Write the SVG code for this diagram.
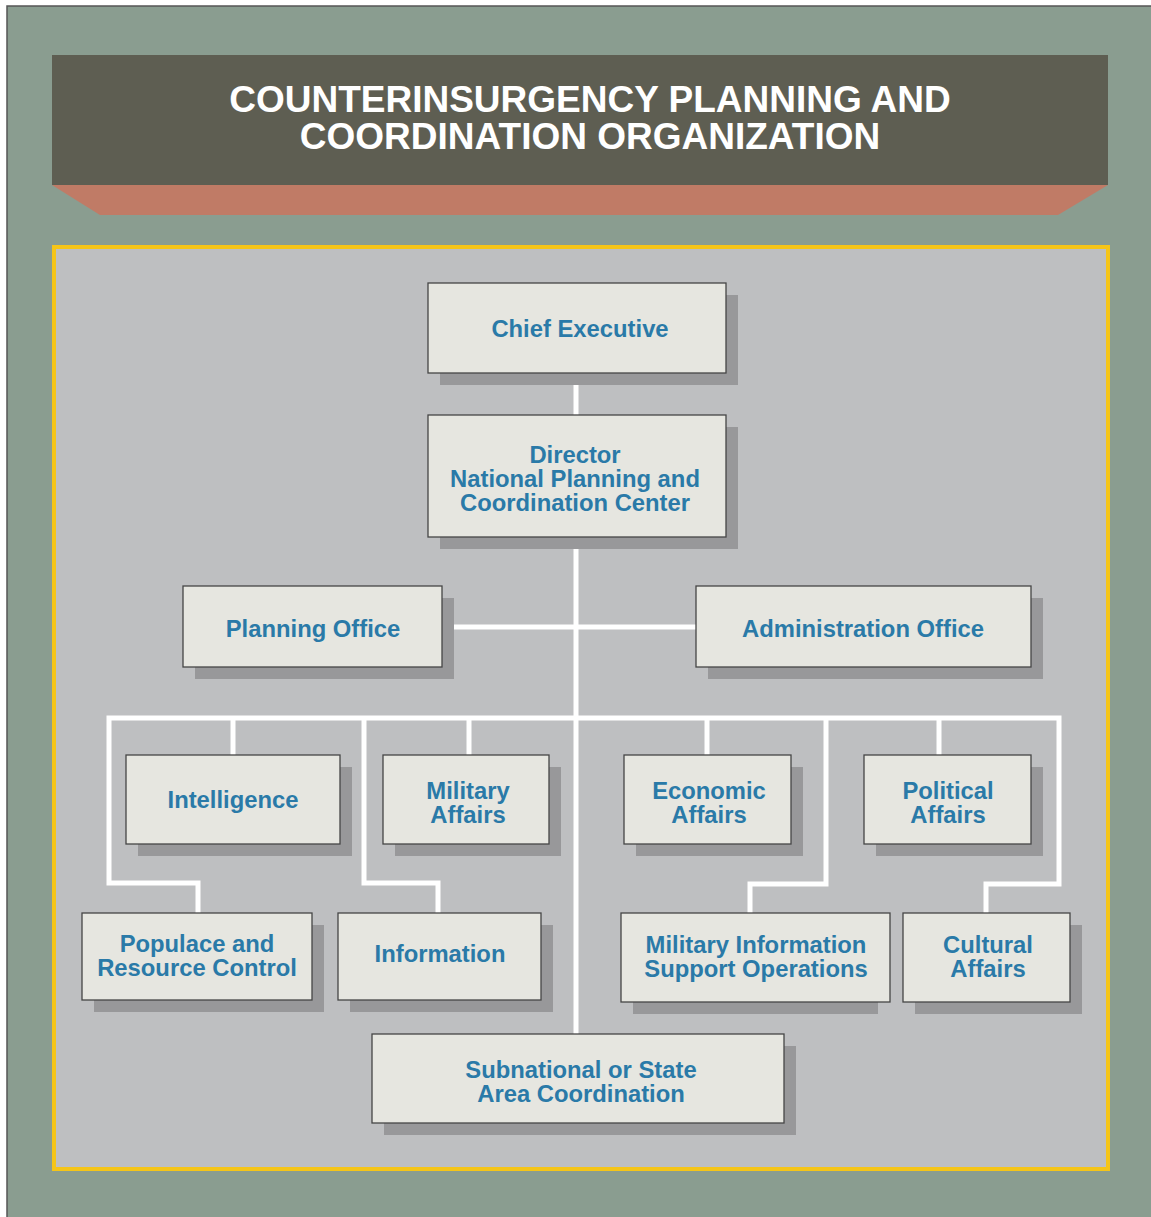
<svg xmlns="http://www.w3.org/2000/svg" width="1151" height="1217" viewBox="0 0 1151 1217">
<style>
.sh{fill:#98989a}
.bx{fill:#e6e6e0;stroke:#454545;stroke-width:1.3}
.t{font-family:"Liberation Sans",Arial,sans-serif;font-weight:bold;font-size:23.8px;fill:#2a7aa8;text-anchor:middle}
.ttl{font-family:"Liberation Sans",Arial,sans-serif;font-weight:bold;font-size:37px;fill:#ffffff;text-anchor:middle}
.c{fill:none;stroke:#ffffff;stroke-width:5}
</style>
<rect x="0" y="0" width="1151" height="1217" fill="#ffffff"/>
<rect x="7" y="6" width="1144" height="1211" fill="#8a9d90"/>
<polyline points="7,1217 7,6 1151,6" fill="none" stroke="#555" stroke-width="1.5"/>
<polygon points="52,185 1108,185 1058,215 100,215" fill="#c07b66"/>
<rect x="52" y="55" width="1056" height="130" fill="#5e5e52"/>
<text class="ttl" x="590" y="112">COUNTERINSURGENCY PLANNING AND</text>
<text class="ttl" x="590" y="149">COORDINATION ORGANIZATION</text>
<rect x="54" y="247" width="1054" height="922" fill="#bebfc1" stroke="#f5c518" stroke-width="4"/>
<g id="connectors">
<line class="c" x1="576" y1="373" x2="576" y2="1034"/>
<line class="c" x1="442" y1="627" x2="696" y2="627"/>
<polyline class="c" points="198,913 198,883 109,883 109,718 1059,718 1059,884 986,884 986,913"/>
<line class="c" x1="233" y1="718" x2="233" y2="755"/>
<polyline class="c" points="364,718 364,883 438,883 438,913"/>
<line class="c" x1="469" y1="718" x2="469" y2="755"/>
<line class="c" x1="707" y1="718" x2="707" y2="755"/>
<polyline class="c" points="826,718 826,884 750,884 750,913"/>
<line class="c" x1="939" y1="718" x2="939" y2="755"/>
</g>
<g id="chief"><rect class="sh" x="440" y="295" width="298" height="90"/><rect class="bx" x="428" y="283" width="298" height="90"/><text class="t" x="580" y="337">Chief Executive</text></g>
<g id="director"><rect class="sh" x="440" y="427" width="298" height="122"/><rect class="bx" x="428" y="415" width="298" height="122"/><text class="t" x="575" y="463">Director</text><text class="t" x="575" y="487">National Planning and</text><text class="t" x="575" y="511">Coordination Center</text></g>
<g id="planning"><rect class="sh" x="195" y="598" width="259" height="81"/><rect class="bx" x="183" y="586" width="259" height="81"/><text class="t" x="313" y="637">Planning Office</text></g>
<g id="admin"><rect class="sh" x="708" y="598" width="335" height="81"/><rect class="bx" x="696" y="586" width="335" height="81"/><text class="t" x="863" y="637">Administration Office</text></g>
<g id="intelligence"><rect class="sh" x="138" y="767" width="214" height="89"/><rect class="bx" x="126" y="755" width="214" height="89"/><text class="t" x="233" y="808">Intelligence</text></g>
<g id="military"><rect class="sh" x="395" y="767" width="166" height="89"/><rect class="bx" x="383" y="755" width="166" height="89"/><text class="t" x="468" y="799">Military</text><text class="t" x="468" y="823">Affairs</text></g>
<g id="economic"><rect class="sh" x="636" y="767" width="167" height="89"/><rect class="bx" x="624" y="755" width="167" height="89"/><text class="t" x="709" y="799">Economic</text><text class="t" x="709" y="823">Affairs</text></g>
<g id="political"><rect class="sh" x="876" y="767" width="167" height="89"/><rect class="bx" x="864" y="755" width="167" height="89"/><text class="t" x="948" y="799">Political</text><text class="t" x="948" y="823">Affairs</text></g>
<g id="populace"><rect class="sh" x="94" y="925" width="230" height="87"/><rect class="bx" x="82" y="913" width="230" height="87"/><text class="t" x="197" y="952">Populace and</text><text class="t" x="197" y="976">Resource Control</text></g>
<g id="information"><rect class="sh" x="350" y="925" width="203" height="87"/><rect class="bx" x="338" y="913" width="203" height="87"/><text class="t" x="440" y="962">Information</text></g>
<g id="miso"><rect class="sh" x="633" y="925" width="245" height="89"/><rect class="bx" x="621" y="913" width="269" height="89"/><text class="t" x="756" y="953">Military Information</text><text class="t" x="756" y="977">Support Operations</text></g>
<g id="cultural"><rect class="sh" x="915" y="925" width="167" height="89"/><rect class="bx" x="903" y="913" width="167" height="89"/><text class="t" x="988" y="953">Cultural</text><text class="t" x="988" y="977">Affairs</text></g>
<g id="subnational"><rect class="sh" x="384" y="1046" width="412" height="89"/><rect class="bx" x="372" y="1034" width="412" height="89"/><text class="t" x="581" y="1078">Subnational or State</text><text class="t" x="581" y="1102">Area Coordination</text></g>
</svg>
